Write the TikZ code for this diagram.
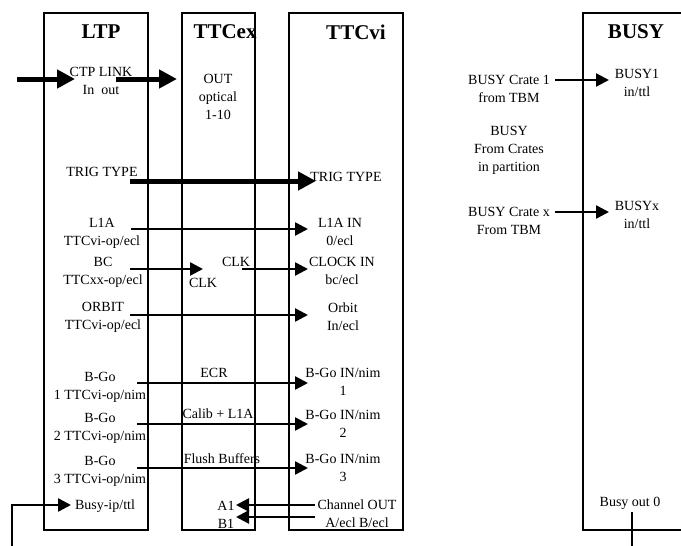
\documentclass[tikz,border=0pt]{standalone}
\usepackage{fontspec}
\setmainfont{Liberation Serif}
\usetikzlibrary{arrows.meta}
\tikzset{
  box/.style={draw, line width=2.8pt, minimum width=#1, minimum height=517pt, inner sep=0pt},
  ttl/.style={font=\fontsize{21}{23}\selectfont\bfseries, inner sep=0pt},
  lbl/.style={font=\fontsize{14}{18}\selectfont, align=center, inner sep=0pt},
  thickarr/.style={line width=5pt, -{Triangle[length=18pt,width=18pt]}},
  thinarr/.style={line width=2.5pt, -{Triangle[length=13pt,width=13pt]}},
  thinline/.style={line width=2.5pt}
}
\begin{document}
\begin{tikzpicture}[x=1pt,y=-1pt]
\useasboundingbox[fill=white] (0,0) rectangle (681,546);
% titles (drawn first so the box edges cover them)
\node[ttl] (tltp) at (101,32) {LTP};
\node[ttl] (tttcex) at (225,32) {TTCex};
\node[ttl] (tttcvi) at (356,32) {TTCvi};
\node[ttl] (tbusy) at (636,32) {BUSY};
% boxes
\node[box=104pt] (ltp) at (96,271.5) {};
\node[box=73pt] (ttcex) at (218.5,271.5) {};
\node[box=114pt] (ttcvi) at (346,271.5) {};
\draw[line width=2.8pt] (700,13) -- (583,13) coordinate (busytl) -- (583,530) -- (700,530);
% LTP labels
\node[lbl] (ctp) at (101,81) {CTP LINK\\In\ \ out};
\node[lbl] (trigl) at (102,172) {TRIG TYPE};
\node[lbl] (l1al) at (102,233) {L1A\\TTCvi-op/ecl};
\node[lbl] (bcl) at (103,272) {BC\\TTCxx-op/ecl};
\node[lbl] (orbl) at (103,317) {ORBIT\\TTCvi-op/ecl};
\node[lbl] (bg1l) at (100,387) {B-Go\\1 TTCvi-op/nim};
\node[lbl] (bg2l) at (100,428) {B-Go\\2 TTCvi-op/nim};
\node[lbl] (bg3l) at (100,471) {B-Go\\3 TTCvi-op/nim};
\node[lbl] (busyip) at (105,506) {Busy-ip/ttl};
% TTCex labels
\node[lbl] (outopt) at (218,97) {OUT\\optical\\1-10};
\node[lbl] (clka) at (203,283) {CLK};
\node[lbl] (clkb) at (236,262) {CLK};
\node[lbl] (ecr) at (214,373) {ECR};
\node[lbl] (calib) at (218,414) {Calib + L1A};
\node[lbl] (flush) at (222,459) {Flush Buffers};
\node[lbl] (a1) at (226,506) {A1};
\node[lbl] (b1) at (226,524) {B1};
% TTCvi labels
\node[lbl] (trigr) at (346,177) {TRIG TYPE};
\node[lbl] (l1ar) at (340,232) {L1A IN\\0/ecl};
\node[lbl] (clkin) at (342,271) {CLOCK IN\\bc/ecl};
\node[lbl] (orbr) at (343,317) {Orbit\\In/ecl};
\node[lbl] (bg1r) at (343,382) {B-Go IN/nim\\1};
\node[lbl] (bg2r) at (343,424) {B-Go IN/nim\\2};
\node[lbl] (bg3r) at (343,468) {B-Go IN/nim\\3};
\node[lbl] (chout) at (357,514) {Channel OUT\\A/ecl B/ecl};
% BUSY side labels
\node[lbl] (crate1) at (509,88.5) {BUSY Crate 1\\from TBM};
\node[lbl] (crates) at (509,150) {BUSY\\From Crates\\in partition};
\node[lbl] (cratex) at (509,220.5) {BUSY Crate x\\From TBM};
\node[lbl] (busy1) at (637,83) {BUSY1\\in/ttl};
\node[lbl] (busyx) at (637,215) {BUSYx\\in/ttl};
\node[lbl] (busyout) at (630,503) {Busy out 0};
% connector coordinates
\coordinate (c1s) at (17,79);   \coordinate (c1e) at (75,79);
\coordinate (c2s) at (116,79);  \coordinate (c2e) at (177,79);
\coordinate (trs) at (130,181); \coordinate (tre) at (316,181);
\coordinate (l1s) at (131,229); \coordinate (l1e) at (308,229);
\coordinate (bcs) at (130,269); \coordinate (bce) at (203,269);
\coordinate (cks) at (242,269); \coordinate (cke) at (308,269);
\coordinate (ors) at (130,315); \coordinate (ore) at (308,315);
\coordinate (g1s) at (137,383); \coordinate (g1e) at (308,383);
\coordinate (g2s) at (137,424); \coordinate (g2e) at (308,424);
\coordinate (g3s) at (137,468); \coordinate (g3e) at (308,468);
\coordinate (bis) at (12,547);  \coordinate (bic) at (12,505); \coordinate (bie) at (71,505);
\coordinate (as) at (315,505);  \coordinate (ae) at (236,505);
\coordinate (bs) at (315,517);  \coordinate (be) at (236,517);
\coordinate (x1s) at (555,80);  \coordinate (x1e) at (609,80);
\coordinate (xxs) at (555,212); \coordinate (xxe) at (609,212);
\coordinate (bos) at (632,512); \coordinate (boe) at (632,547);
% connectors
\draw[thickarr] (c1s) -- (c1e);
\draw[thickarr] (c2s) -- (c2e);
\draw[thickarr] (trs) -- (tre);
\draw[thinarr] (l1s) -- (l1e);
\draw[thinarr] (bcs) -- (bce);
\draw[thinarr] (cks) -- (cke);
\draw[thinarr] (ors) -- (ore);
\draw[thinarr] (g1s) -- (g1e);
\draw[thinarr] (g2s) -- (g2e);
\draw[thinarr] (g3s) -- (g3e);
\draw[thinarr] (bis) -- (bic) -- (bie);
\draw[thinarr] (as) -- (ae);
\draw[thinarr] (bs) -- (be);
\draw[thinarr] (x1s) -- (x1e);
\draw[thinarr] (xxs) -- (xxe);
\draw[thinline] (bos) -- (boe);
\end{tikzpicture}
\end{document}
